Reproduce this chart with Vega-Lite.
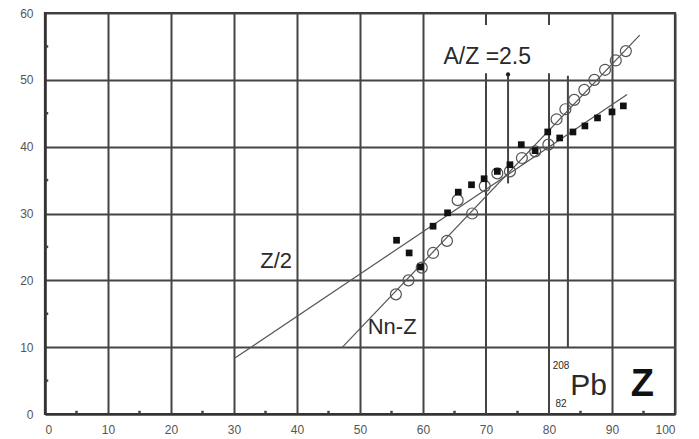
{
  "$schema": "https://vega.github.io/schema/vega-lite/v6.json",
  "width": 630,
  "height": 401,
  "autosize": {"type": "none"},
  "padding": {"left": 45, "top": 13, "right": 24, "bottom": 25},
  "background": "white",
  "config": {
    "view": {"stroke": "#333", "strokeWidth": 2.2},
    "axis": {
      "domainColor": "#333", "domainWidth": 2.2,
      "gridColor": "#444", "gridWidth": 2,
      "labelFont": "Liberation Sans", "labelFontSize": 12, "labelColor": "#555",
      "tickColor": "#333", "tickWidth": 2, "title": null
    },
    "text": {"font": "Liberation Sans", "color": "#2a2a2a"}
  },
  "datasets": {
    "pts": [
      {"Z": 55.8, "v": 26.0, "s": "sq"}, {"Z": 57.8, "v": 24.1, "s": "sq"}, {"Z": 59.6, "v": 22.0, "s": "sq"},
      {"Z": 61.6, "v": 28.1, "s": "sq"}, {"Z": 63.9, "v": 30.1, "s": "sq"}, {"Z": 65.6, "v": 33.2, "s": "sq"},
      {"Z": 67.7, "v": 34.3, "s": "sq"}, {"Z": 69.7, "v": 35.2, "s": "sq"}, {"Z": 71.8, "v": 36.3, "s": "sq"},
      {"Z": 73.8, "v": 37.3, "s": "sq"}, {"Z": 75.6, "v": 40.3, "s": "sq"}, {"Z": 77.8, "v": 39.4, "s": "sq"},
      {"Z": 79.8, "v": 42.2, "s": "sq"}, {"Z": 81.7, "v": 41.3, "s": "sq"}, {"Z": 83.8, "v": 42.2, "s": "sq"},
      {"Z": 85.7, "v": 43.1, "s": "sq"}, {"Z": 87.7, "v": 44.3, "s": "sq"}, {"Z": 90.0, "v": 45.2, "s": "sq"},
      {"Z": 91.8, "v": 46.1, "s": "sq"},
      {"Z": 55.7, "v": 17.9, "s": "ci"}, {"Z": 57.7, "v": 20.0, "s": "ci"}, {"Z": 59.8, "v": 21.9, "s": "ci"},
      {"Z": 61.6, "v": 24.1, "s": "ci"}, {"Z": 63.8, "v": 25.9, "s": "ci"}, {"Z": 65.5, "v": 32.0, "s": "ci"},
      {"Z": 67.8, "v": 30.0, "s": "ci"}, {"Z": 69.8, "v": 34.1, "s": "ci"}, {"Z": 71.8, "v": 36.0, "s": "ci"},
      {"Z": 73.8, "v": 36.3, "s": "ci"}, {"Z": 75.7, "v": 38.3, "s": "ci"}, {"Z": 77.8, "v": 39.3, "s": "ci"},
      {"Z": 79.9, "v": 40.3, "s": "ci"}, {"Z": 81.2, "v": 44.1, "s": "ci"}, {"Z": 82.6, "v": 45.6, "s": "ci"},
      {"Z": 84.0, "v": 47.0, "s": "ci"}, {"Z": 85.6, "v": 48.5, "s": "ci"}, {"Z": 87.2, "v": 50.0, "s": "ci"},
      {"Z": 88.9, "v": 51.5, "s": "ci"}, {"Z": 90.6, "v": 52.9, "s": "ci"}, {"Z": 92.2, "v": 54.3, "s": "ci"}
    ],
    "fits": [
      {"name": "Z/2", "x1": 30.2, "y1": 8.4, "x2": 92.4, "y2": 47.8},
      {"name": "Nn-Z", "x1": 47.1, "y1": 9.9, "x2": 94.4, "y2": 56.7}
    ],
    "vlines": [
      {"x": 70, "y1": 0, "y2": 51},
      {"x": 80, "y1": 0, "y2": 51},
      {"x": 70, "y1": 58.2, "y2": 60},
      {"x": 80, "y1": 58.2, "y2": 60},
      {"x": 83, "y1": 10, "y2": 50.6},
      {"x": 73.5, "y1": 34.5, "y2": 50.8}
    ],
    "labels": [
      {"t": "A/Z =2.5", "x": 70.2, "y": 53.4, "size": 23},
      {"t": "Z/2", "x": 36.7, "y": 22.9, "size": 22},
      {"t": "Nn-Z", "x": 55.1, "y": 13.0, "size": 22},
      {"t": "208", "x": 81.9, "y": 7.2, "size": 10},
      {"t": "82", "x": 81.9, "y": 1.5, "size": 10},
      {"t": "Pb", "x": 86.3, "y": 4.2, "size": 30}
    ],
    "bold": [
      {"t": "Z", "x": 94.8, "y": 4.4}
    ],
    "minor": [
      {"x": 5}, {"x": 15}, {"x": 25}, {"x": 35}, {"x": 45}, {"x": 55}, {"x": 65}, {"x": 75}, {"x": 85}, {"x": 95}
    ]
  },
  "layer": [
    {
      "data": {"name": "vlines"},
      "mark": {"type": "rule", "color": "#444", "strokeWidth": 2},
      "encoding": {
        "x": {"field": "x", "type": "quantitative", "scale": {"domain": [0, 100], "nice": false},
          "axis": {
            "values": [0,5,10,15,20,25,30,35,40,45,50,55,60,65,70,75,80,85,90,95,100],
            "labelExpr": "datum.value % 10 === 0 ? datum.label : ''",
            "tickSize": 0, "labelPadding": 10,
            "gridOpacity": {"condition": {"test": "datum.value % 10 === 0 && datum.value !== 70 && datum.value !== 80", "value": 1}, "value": 0}
          }},
        "y": {"field": "y1", "type": "quantitative", "scale": {"domain": [0, 60], "nice": false},
          "axis": {
            "values": [0,5,10,15,20,25,30,35,40,45,50,55,60],
            "labelExpr": "datum.value % 10 === 0 ? datum.label : ''",
            "tickSize": 0, "labelPadding": 12,
            "gridOpacity": {"condition": {"test": "datum.value % 10 === 0", "value": 1}, "value": 0}
          }},
        "y2": {"field": "y2"}
      }
    },
    {
      "data": {"name": "minor"},
      "mark": {"type": "point", "shape": "square", "filled": true, "color": "#444", "size": 6, "opacity": 1, "yOffset": -2},
      "encoding": {
        "x": {"field": "x", "type": "quantitative"},
        "y": {"datum": 0, "type": "quantitative"}
      }
    },
    {
      "data": {"name": "minor"},
      "transform": [{"filter": "datum.x < 60"}],
      "mark": {"type": "point", "shape": "square", "filled": true, "color": "#444", "size": 6, "opacity": 1, "xOffset": 2},
      "encoding": {
        "x": {"datum": 0, "type": "quantitative"},
        "y": {"field": "x", "type": "quantitative"}
      }
    },
    {
      "data": {"name": "vlines"},
      "transform": [{"filter": "datum.x === 73.5"}],
      "mark": {"type": "point", "filled": true, "color": "#222", "size": 18, "opacity": 1},
      "encoding": {
        "x": {"field": "x", "type": "quantitative"},
        "y": {"field": "y2", "type": "quantitative"}
      }
    },
    {
      "data": {"name": "fits"},
      "mark": {"type": "rule", "color": "#555", "strokeWidth": 1.2},
      "encoding": {
        "x": {"field": "x1", "type": "quantitative"},
        "y": {"field": "y1", "type": "quantitative"},
        "x2": {"field": "x2"},
        "y2": {"field": "y2"}
      }
    },
    {
      "data": {"name": "pts"},
      "transform": [{"filter": "datum.s === 'ci'"}],
      "mark": {"type": "point", "shape": "circle", "filled": false, "stroke": "#555", "strokeWidth": 1.2, "size": 120, "opacity": 1},
      "encoding": {
        "x": {"field": "Z", "type": "quantitative"},
        "y": {"field": "v", "type": "quantitative"}
      }
    },
    {
      "data": {"name": "pts"},
      "transform": [{"filter": "datum.s === 'sq'"}],
      "mark": {"type": "point", "shape": "square", "filled": true, "color": "#111", "size": 45, "opacity": 1},
      "encoding": {
        "x": {"field": "Z", "type": "quantitative"},
        "y": {"field": "v", "type": "quantitative"}
      }
    },
    {
      "data": {"name": "labels"},
      "mark": {"type": "text", "align": "center", "baseline": "middle"},
      "encoding": {
        "x": {"field": "x", "type": "quantitative"},
        "y": {"field": "y", "type": "quantitative"},
        "text": {"field": "t"},
        "size": {"field": "size", "type": "quantitative", "scale": null}
      }
    },
    {
      "data": {"name": "bold"},
      "mark": {"type": "text", "align": "center", "baseline": "middle", "fontWeight": "bold", "fontSize": 38, "color": "#111"},
      "encoding": {
        "x": {"field": "x", "type": "quantitative"},
        "y": {"field": "y", "type": "quantitative"},
        "text": {"field": "t"}
      }
    }
  ]
}
